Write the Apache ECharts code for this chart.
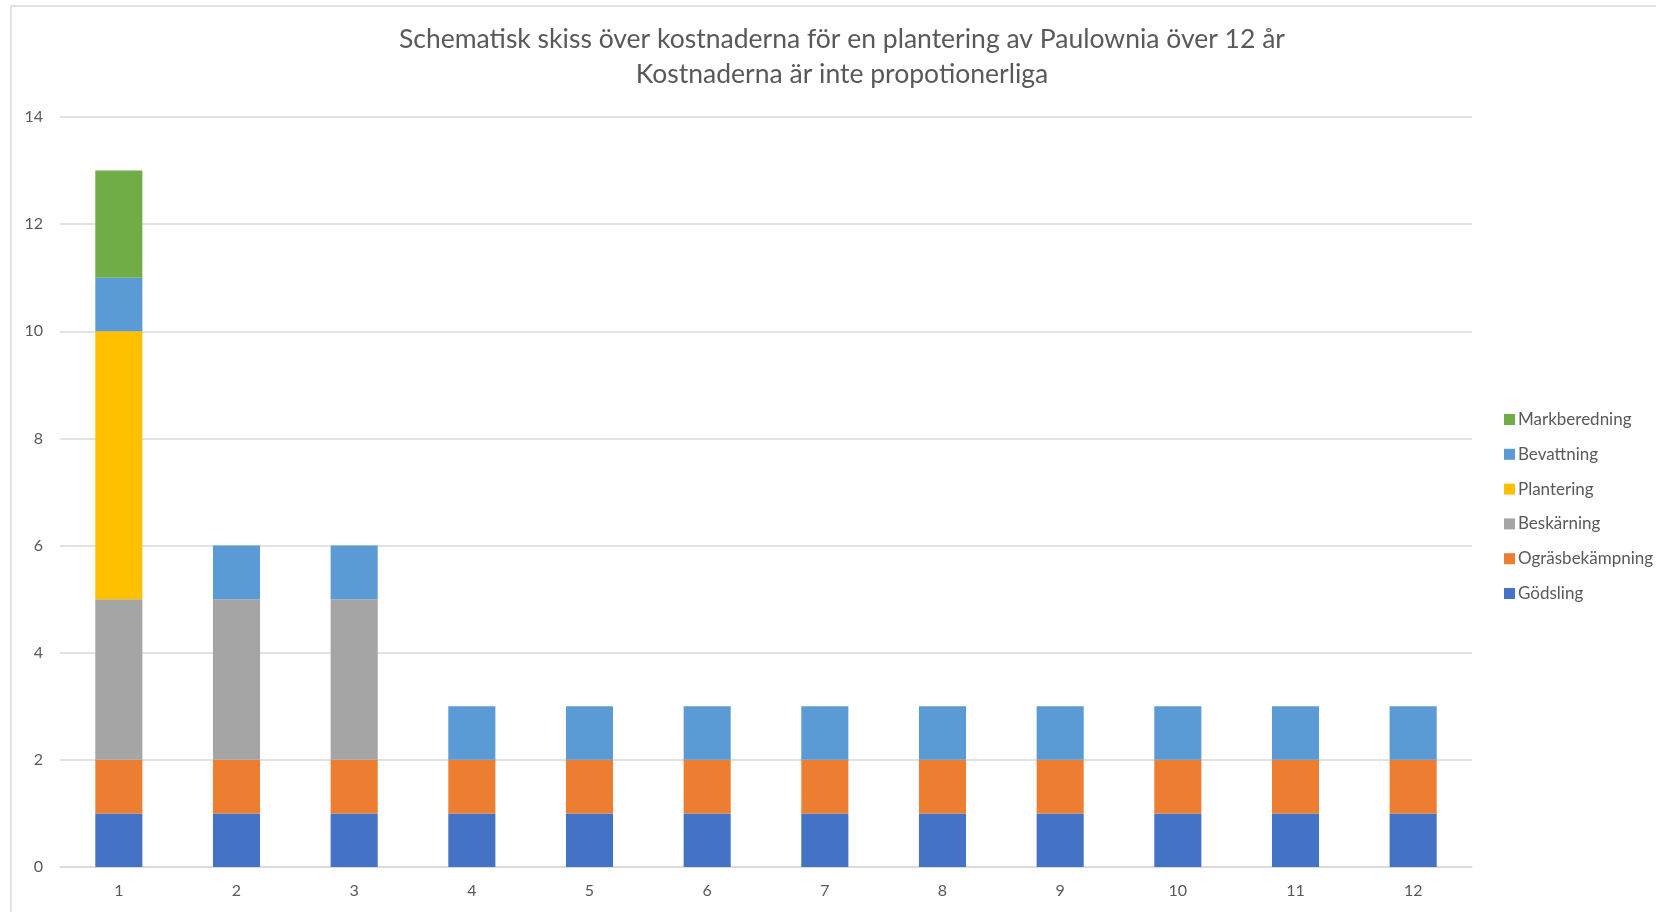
<!DOCTYPE html>
<html>
<head>
<meta charset="utf-8">
<script src="https://cdn.jsdelivr.net/npm/echarts@6/dist/echarts.min.js"></script>
<style>
html,body{margin:0;padding:0;background:#fff;}
#chart{width:1656px;height:912px;}
</style>
</head>
<body>
<div id="chart"></div>
<script>
const categories = ['1','2','3','4','5','6','7','8','9','10','11','12'];
const godsling = [1,1,1,1,1,1,1,1,1,1,1,1];
const ograsbekampning = [1,1,1,1,1,1,1,1,1,1,1,1];
const beskarning = [3,3,3,null,null,null,null,null,null,null,null,null];
const plantering = [5,null,null,null,null,null,null,null,null,null,null,null];
const bevattning = [1,1,1,1,1,1,1,1,1,1,1,1];
const markberedning = [2,null,null,null,null,null,null,null,null,null,null,null];
const legendOrder = ['Markberedning','Bevattning','Plantering','Beskärning','Ogräsbekämpning','Gödsling'];

const FONT = 'Lato';
const chart = echarts.init(document.getElementById('chart'));
function s(name, data, color){
  return {name:name, type:'bar', stack:'a', data:data, barCategoryGap:'60%',
    itemStyle:{color:color}, emphasis:{disabled:true}};
}
chart.setOption({
  animation:false,
  textStyle:{fontFamily:FONT},
  graphic:[{type:'rect', shape:{x:11,y:6,width:1700,height:1000}, style:{fill:null, stroke:'#d9d9d9', lineWidth:1.5}, silent:true}],
  title:{
    text:'Schematisk skiss över kostnaderna för en plantering av Paulownia över 12 år\nKostnaderna är inte propotionerliga',
    left:837, top:17, textAlign:'center',
    textStyle:{fontFamily:FONT, fontSize:26.5, fontWeight:'normal', color:'#595959', lineHeight:35}
  },
  legend:{
    orient:'vertical', left:1499, top:406,
    itemWidth:11, itemHeight:11, itemGap:17.8,
    data:legendOrder,
    icon:'rect',
    textStyle:{fontFamily:FONT, fontSize:17, color:'#595959', lineHeight:16, padding:[0,0,0,-2]}
  },
  grid:{left:60, right:184, top:117, bottom:45, containLabel:false},
  xAxis:{
    type:'category', data:categories,
    axisLine:{show:true, lineStyle:{color:'#d9d9d9', width:1.5}},
    axisTick:{show:false},
    axisLabel:{fontFamily:FONT, fontSize:16, color:'#595959', margin:16}
  },
  yAxis:{
    type:'value', min:0, max:14, interval:2,
    axisLine:{show:false}, axisTick:{show:false},
    splitLine:{lineStyle:{color:'#d9d9d9', width:1.5}},
    axisLabel:{fontFamily:FONT, fontSize:16, color:'#595959', margin:17}
  },
  series:[
    s('Gödsling', godsling, '#4472C4'),
    s('Ogräsbekämpning', ograsbekampning, '#ED7D31'),
    s('Beskärning', beskarning, '#A5A5A5'),
    s('Plantering', plantering, '#FFC000'),
    s('Bevattning', bevattning, '#5B9BD5'),
    s('Markberedning', markberedning, '#70AD47')
  ]
});
</script>
</body>
</html>
